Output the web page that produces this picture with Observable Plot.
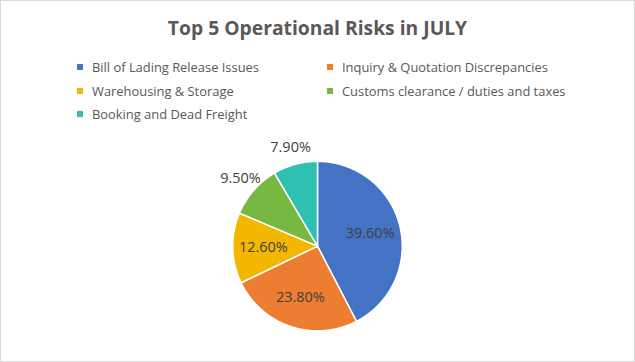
<!DOCTYPE html>
<html>
<head>
<meta charset="utf-8">
<script src="https://cdn.jsdelivr.net/npm/d3@7"></script>
<script src="https://cdn.jsdelivr.net/npm/@observablehq/plot@0.6"></script>
<style>
  html, body { margin: 0; padding: 0; background: #fff; }
  #chart { position: relative; width: 635px; height: 362px; box-sizing: border-box; border: 1px solid #d9d9d9; background: #fff; overflow: hidden; }
  #title { position: absolute; left: 0; top: 14px; width: 633px; text-align: center; font: bold 19.3px "Open Sans", sans-serif; color: #595959; line-height: 26px; }
  #legend { position: absolute; left: 76px; top: 54.5px; width: 500px; }
  #legend .lg-swatches { font: 12.9px "Open Sans", sans-serif; color: #595959; margin: 0; columns: 2; column-gap: 0; }
  #legend .lg-swatch { height: 23.5px; padding-bottom: 0; display: flex; align-items: center; }
  #legend .lg-swatch > svg { margin-right: 9px; }
  #pie { position: absolute; left: 0; top: 125px; }
</style>
</head>
<body>
<div id="chart">
  <div id="title">Top 5 Operational Risks in JULY</div>
  <div id="legend"></div>
  <div id="pie"></div>
</div>
<script>
const categories = [
  "Bill of Lading Release Issues",
  "Inquiry & Quotation Discrepancies",
  "Warehousing & Storage",
  "Customs clearance / duties and taxes",
  "Booking and Dead Freight"
];
const values = [39.6, 23.8, 12.6, 9.5, 7.9];
const colors = ["#4472C4", "#ED7D31", "#F2B800", "#77B843", "#2EC0B0"];
const legendOrder = [0, 2, 4, 1, 3]; // two legend columns, read row by row

const total = d3.sum(values);
const fmt = v => v.toFixed(2) + "%";

// slices as closed polygons in unit-circle coordinates (angle clockwise from 12 o'clock)
const slicePoints = [];
const labelData = [];
let acc = 0;
values.forEach((v, i) => {
  const a0 = acc / total * 2 * Math.PI;
  acc += v;
  const a1 = acc / total * 2 * Math.PI;
  const name = categories[i];
  slicePoints.push({name, x: 0, y: 0});
  const n = Math.max(2, Math.ceil((a1 - a0) / (Math.PI / 360)));
  for (let k = 0; k <= n; k++) {
    const a = a0 + (a1 - a0) * k / n;
    slicePoints.push({name, x: Math.sin(a), y: Math.cos(a)});
  }
  const mid = (a0 + a1) / 2;
  const share = v / total;
  const r = share < 0.11 ? 1.21 : 0.64;
  labelData.push({name, text: fmt(v), x: r * Math.sin(mid), y: r * Math.cos(mid)});
});

const colorScale = {
  domain: legendOrder.map(i => categories[i]),
  range: legendOrder.map(i => colors[i])
};

const plot = Plot.plot({
  width: 635,
  height: 237,
  margin: 0,
  x: {domain: [-1, 1], range: [232, 402], axis: null},
  y: {domain: [-1, 1], range: [205, 35], axis: null},
  color: colorScale,
  style: {background: "transparent", overflow: "visible"},
  marks: [
    Plot.line(slicePoints, {
      x: "x", y: "y", z: "name", fill: "name",
      stroke: "white", strokeWidth: 1.5, strokeLinejoin: "round",
      curve: "linear-closed"
    }),
    Plot.text(labelData, {
      x: "x", y: "y", text: "text",
      fill: "#404040", fontSize: 14.5, fontFamily: "Open Sans, sans-serif"
    })
  ]
});
document.getElementById("pie").appendChild(plot);

const legend = Plot.legend({
  color: colorScale,
  legend: "swatches",
  columns: 2,
  swatchSize: 6,
  className: "lg"
});
document.getElementById("legend").appendChild(legend);
</script>
</body>
</html>
